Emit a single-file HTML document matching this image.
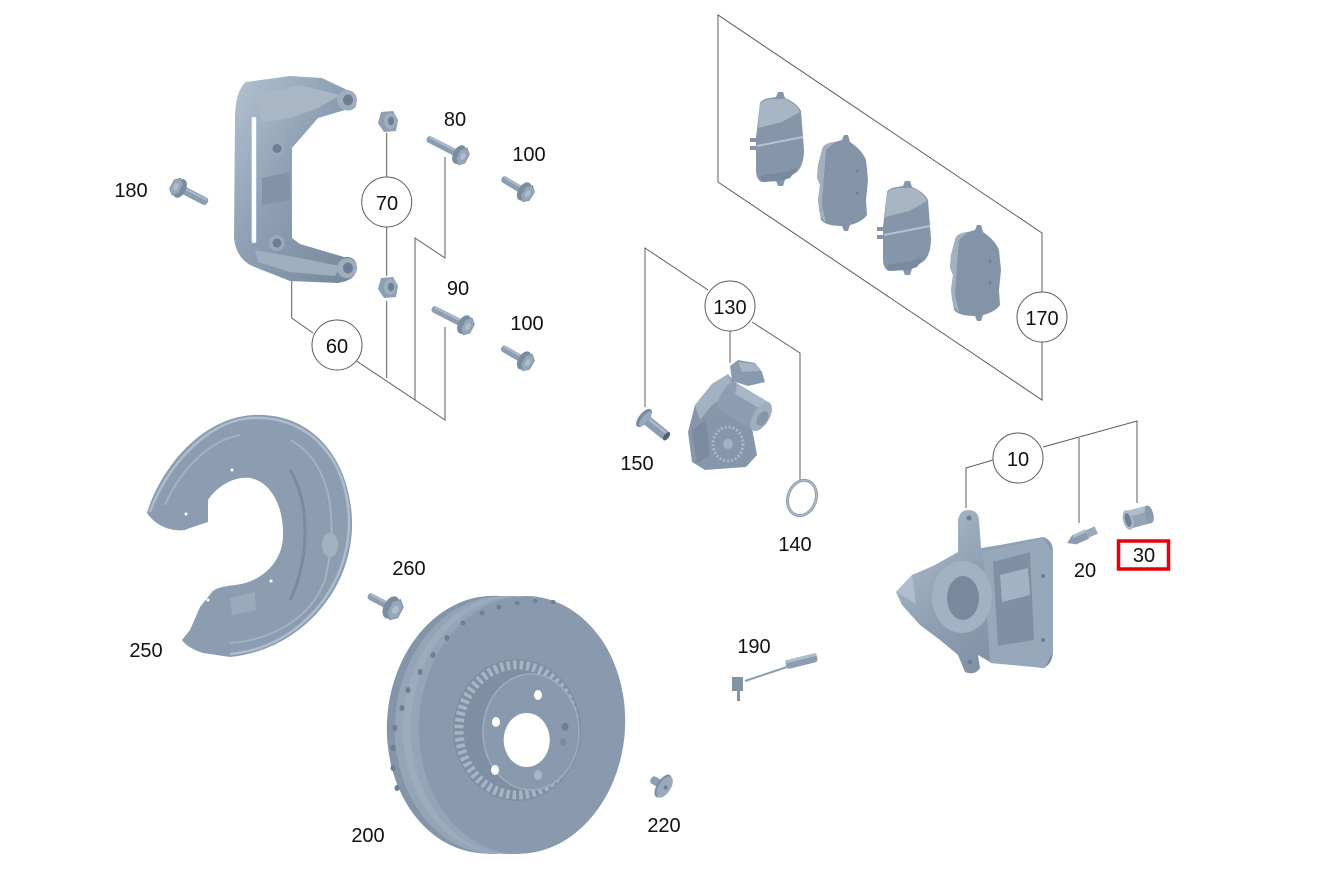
<!DOCTYPE html>
<html><head><meta charset="utf-8">
<style>
html,body{margin:0;padding:0;background:#fff;width:1326px;height:881px;overflow:hidden;}
svg{display:block;}
text{font-family:"Liberation Sans",Arial,sans-serif;font-size:20px;fill:#111;text-anchor:middle;}
</style></head><body>
<svg width="1326" height="881" viewBox="0 0 1326 881" xmlns="http://www.w3.org/2000/svg">
<defs>
<linearGradient id="g" x1="0" y1="0" x2="1" y2="1">
<stop offset="0" stop-color="#b3c1d0"/><stop offset="0.45" stop-color="#8fa0b4"/><stop offset="1" stop-color="#76879b"/></linearGradient>
<linearGradient id="gv" x1="0" y1="0" x2="0" y2="1">
<stop offset="0" stop-color="#a9b8c8"/><stop offset="1" stop-color="#7c8da1"/></linearGradient>
<g id="bh">
<ellipse cx="-1" cy="0" rx="6" ry="10" fill="#7b8ca0"/>
<polygon points="3,-9.5 8,-5 8,5 3,9.5 -2,5 -2,-5" fill="#97a7ba" stroke="#7a8b9f" stroke-width="0.7"/>
<polygon points="3,-4 5.5,-2 5.5,2 3,4 1,2 1,-2" fill="#b0bdcc"/>
</g>
<g id="pad1">
<path d="M760,103 Q762,99 770,98 L776,97 L778,92 L783,92 L785,98 Q797,103 801,111 L804,150 Q804,165 797,172 L785,180 L783,186 L778,186 L776,181 L762,182 Q756,180 756,170 L756,150 L750,150 L750,146 L756,146 L756,142 L750,142 L750,138 L756,138 Z" fill="#8696aa"/>
<path d="M760,104 Q763,100 771,99 L785,99 Q797,104 800,112 L782,122 L758,128 Z" fill="#a7b5c5"/>
<path d="M757,146 L803,137" stroke="#b5c2d0" stroke-width="2"/>
<path d="M760,176 L785,172 L797,168 L790,178 L780,181 L762,182 Z" fill="#7a8a9e"/>
</g>
<g id="pad2">
<path d="M822,150 Q823,143 835,142 L842,140 L844,135 L848,135 L850,142 Q862,150 866,160 L868,180 L866,200 L867,215 Q862,222 850,225 L848,231 L844,231 L842,226 Q826,226 821,220 L818,200 L820,185 L817,178 L818,165 Z" fill="#8494a8"/>
<path d="M822,150 Q823,143 835,142 L826,150 L824,175 L822,205 L826,222 Q821,220 819,210 L818,200 L820,185 L817,178 L818,165 Z" fill="#a2b1c1"/>
<circle cx="857" cy="171" r="1.5" fill="#6f7f93"/><circle cx="857" cy="193" r="1.5" fill="#6f7f93"/>
</g>
</defs>

<!-- ===== connector lines ===== -->
<g stroke="#5c5c5c" stroke-width="1" fill="none">
<path d="M291.7,280 L291.7,318 L313,333"/>
<path d="M356.5,361 L445,420 L445,327"/>
<path d="M386.7,378 L386.7,301"/>
<path d="M386.7,276 L386.7,227"/>
<path d="M386.7,177 L386.7,133"/>
<path d="M415,400 L415,238 L445,258 L445,157"/>
<path d="M1042,292 L1042,233 L718,15 L718,182 L1042,400 L1042,342"/>
<path d="M645,407 L645,248 L708,290"/>
<path d="M730,331 L730,363"/>
<path d="M752,322 L800,353 L800,480"/>
<path d="M993,460 L966,468 L966,508"/>
<path d="M1043,447 L1137,421 L1137,503"/>
<path d="M1079,438 L1079,523"/>
</g>

<!-- ===== caliper bracket 60 ===== -->
<g>
<path d="M246,82 L290,76 L322,78 L345,89 Q358,95 356,106 Q352,112 345,110 L318,118 L292,148 L292,238 L300,244 L344,257 Q356,256 357,267 Q357,280 338,283 L290,281 L252,266 Q236,258 234,238 L235,115 Q236,90 246,82 Z" fill="url(#g)"/>
<path d="M255,95 L300,85 L340,95 L318,108 L290,118 L262,122 Z" fill="#a8b6c6"/>
<path d="M255,250 L300,258 L340,266 L335,276 L290,272 L258,262 Z" fill="#9fafc0"/>
<rect x="251.7" y="117" width="4.5" height="126" rx="2" fill="#fff"/>
<circle cx="347" cy="100" r="10" fill="#9eadbf"/><ellipse cx="348" cy="100" rx="5" ry="5.5" fill="#6f7f93"/>
<circle cx="347" cy="268" r="10" fill="#9eadbf"/><ellipse cx="348" cy="268" rx="5" ry="5.5" fill="#6f7f93"/>
<circle cx="276.7" cy="148.3" r="8" fill="#9aa9bb"/><circle cx="277" cy="148.5" r="4.5" fill="#6f7f93"/>
<circle cx="276.7" cy="243" r="8" fill="#9aa9bb"/><circle cx="277" cy="243" r="4.5" fill="#6f7f93"/>
<path d="M262,178 L290,172 L290,200 L262,205 Z" fill="#8293a7"/>
</g>

<!-- nuts 70 -->
<g>
<polygon points="381,112 393,111 398,120 396,131 384,132 378,123" fill="#8e9fb3"/>
<ellipse cx="390" cy="121" rx="6" ry="8" fill="#9fafc0"/><ellipse cx="391" cy="121" rx="3" ry="4.5" fill="#6f7f93"/>
<polygon points="381,278 393,277 398,286 396,297 384,298 378,289" fill="#8e9fb3"/>
<ellipse cx="390" cy="287" rx="6" ry="8" fill="#9fafc0"/><ellipse cx="391" cy="287" rx="3" ry="4.5" fill="#6f7f93"/>
</g>

<!-- bolts -->
<g transform="translate(460,155) rotate(27)"><rect x="-37" y="-3.5" width="37" height="7" rx="3" fill="#8d9db1"/><rect x="-35" y="-3" width="33" height="2" fill="#abb9c8"/><use href="#bh"/></g>
<g transform="translate(465,325) rotate(27)"><rect x="-37" y="-3.5" width="37" height="7" rx="3" fill="#8d9db1"/><rect x="-35" y="-3" width="33" height="2" fill="#abb9c8"/><use href="#bh"/></g>
<g transform="translate(525,192) rotate(31)"><rect x="-27" y="-3.5" width="27" height="7" rx="3" fill="#8d9db1"/><rect x="-25" y="-3" width="23" height="2" fill="#abb9c8"/><use href="#bh"/></g>
<g transform="translate(525,361) rotate(30)"><rect x="-27" y="-3.5" width="27" height="7" rx="3" fill="#8d9db1"/><rect x="-25" y="-3" width="23" height="2" fill="#abb9c8"/><use href="#bh"/></g>
<g transform="translate(179,188) rotate(207)"><rect x="-32" y="-4" width="32" height="8" rx="3" fill="#8d9db1"/><rect x="-30" y="1" width="28" height="2" fill="#abb9c8"/><use href="#bh"/></g>
<g transform="translate(392,608) rotate(28)"><rect x="-27" y="-3.5" width="27" height="7" rx="3" fill="#8d9db1"/><rect x="-25" y="-3" width="23" height="2" fill="#abb9c8"/><use href="#bh" transform="scale(1.2)"/></g>
<g transform="translate(644,418) rotate(219)"><rect x="-29" y="-5" width="29" height="10" rx="3" fill="#8d9db1"/><rect x="-27" y="1" width="25" height="2.5" fill="#abb9c8"/><ellipse cx="-29" cy="0" rx="2.5" ry="5" fill="#55606e"/><ellipse cx="0" cy="0" rx="5" ry="11" fill="#7b8ca0"/><ellipse cx="-1.5" cy="0" rx="3" ry="9" fill="#9aaabc"/></g>
<g transform="translate(663,786) rotate(32)"><rect x="-14" y="-4" width="14" height="8" rx="3" fill="#8d9db1"/><ellipse cx="0" cy="0" rx="6" ry="13" fill="#7d8ea2"/><ellipse cx="2" cy="0" rx="6" ry="12" fill="#9aaabc"/><circle cx="3" cy="0" r="2" fill="#6f7f93"/></g>

<!-- pads 170 -->
<use href="#pad1"/>
<use href="#pad2"/>
<use href="#pad1" transform="translate(127,89)"/>
<use href="#pad2" transform="translate(133,90)"/>

<!-- motor 130 -->
<g>
<path d="M712,384 L728,374 L742,392 L752,428 L757,455 L746,467 L705,470 L692,462 L688,432 L695,405 Z" fill="#8797ab"/>
<path d="M712,384 L728,374 L735,390 L712,405 L700,420 L695,405 Z" fill="#a3b2c2"/>
<g transform="translate(727,396) rotate(31)">
<rect x="0" y="-16" width="40" height="32" fill="#8e9eb2"/>
<rect x="0" y="-16" width="40" height="10" fill="#a8b6c6"/>
<ellipse cx="0" cy="0" rx="6" ry="16" fill="#8e9eb2"/>
<ellipse cx="40" cy="0" rx="8" ry="16" fill="#a0afc0"/>
<ellipse cx="42" cy="1" rx="5" ry="8" fill="#8797ab"/>
</g>
<polygon points="730,366 738,360 755,363 762,372 765,382 748,386 732,381" fill="#8a9aae"/>
<polygon points="738,362 755,364 760,371 742,372" fill="#a6b4c4"/>
<ellipse cx="728" cy="444" rx="15" ry="17" fill="#8797ab" stroke="#a9b7c7" stroke-width="3" stroke-dasharray="2 2"/>
<circle cx="728" cy="444" r="5" fill="#a3b2c2"/>
<path d="M692,430 L706,420 L710,455 L697,463 Z" fill="#7a8b9f"/>
</g>
<!-- o-ring 140 -->
<ellipse cx="802" cy="498" rx="14" ry="18" transform="rotate(20 802 498)" fill="none" stroke="#8d9db1" stroke-width="3"/>
<ellipse cx="802" cy="498" rx="14" ry="18" transform="rotate(20 802 498)" fill="none" stroke="#b3c0ce" stroke-width="1"/>

<!-- caliper 10 -->
<g>
<path d="M968,510 Q978,510 979,520 L981,548 L1000,545 L1043,537 Q1053,540 1053,552 L1053,652 Q1052,665 1043,668 L990,662 L978,655 L980,668 Q975,676 965,672 L958,655 L940,640 L920,625 L902,605 L896,592 L912,575 L935,565 L958,552 L958,520 Q960,510 968,510 Z" fill="url(#g)"/>
<path d="M983,552 L1043,538 L1053,552 L1053,652 L1045,668 L990,663 Z" fill="#98a8bb"/>
<path d="M993,562 L1030,552 L1034,640 L998,646 Z" fill="#7f90a4"/>
<path d="M1000,575 L1028,568 L1030,595 L1002,602 Z" fill="#a4b3c3"/>
<ellipse cx="962" cy="597" rx="30" ry="36" fill="#a3b2c2"/>
<ellipse cx="963" cy="598" rx="16" ry="22" fill="#7a8a9e"/>
<circle cx="969" cy="518" r="2.5" fill="#6f7f93"/><circle cx="970" cy="662" r="2.5" fill="#6f7f93"/>
<circle cx="1043" cy="576" r="2" fill="#6f7f93"/><circle cx="1043" cy="640" r="2" fill="#6f7f93"/>
<path d="M897,592 L912,575 L916,604 Z" fill="#b0bdcc"/>
</g>
<!-- bleeder 20 -->
<g transform="translate(1067,543) rotate(-24)">
<path d="M0,0 L8,-5 L22,-5 L22,5 L8,5 Z" fill="#8d9db1"/>
<rect x="8" y="-5" width="14" height="3" fill="#b0bdcc"/>
<rect x="22" y="-4" width="10" height="8" fill="#9aaabc"/>
</g>
<!-- cap 30 -->
<g transform="translate(1128,520) rotate(-15)">
<rect x="0" y="-9" width="22" height="18" fill="#94a4b7"/>
<rect x="0" y="-9" width="22" height="6" fill="#b0bdcc"/>
<ellipse cx="22" cy="0" rx="4" ry="9" fill="#8a9aae"/>
<ellipse cx="0" cy="0" rx="5" ry="10" fill="#a9b7c7"/>
<ellipse cx="0" cy="0" rx="3" ry="7" fill="#6f7f93"/>
</g>

<!-- shield 250 -->
<g>
<path d="M147,513 C160,470 200,418 253,415 C315,412 350,462 352,520 C354,590 300,650 230,657 L203,653 C193,650 185,645 182,640 L190,630 L200,607 L212,592 C215,588 225,586 235,585 C262,582 282,562 283,537 C284,508 272,482 250,478 C232,476 216,488 208,500 L208,522 L190,528 L185,530 C170,532 155,525 147,513 Z" fill="#8d9db1"/>
<path d="M150,512 C165,470 205,420 253,418 C312,416 348,462 349,520 C350,588 298,648 230,654" fill="none" stroke="#aebccb" stroke-width="2.5"/>
<path d="M165,505 C180,470 210,440 240,435 M290,440 C330,460 340,520 325,580 C310,620 270,640 230,643" fill="none" stroke="#a3b2c2" stroke-width="2"/>
<path d="M290,470 C310,500 310,560 290,600" fill="none" stroke="#7a8b9f" stroke-width="3"/>
<ellipse cx="330" cy="545" rx="8" ry="12" fill="#a3b2c2"/>
<path d="M230,598 L255,592 L256,610 L232,615 Z" fill="#9aaabc"/>
<circle cx="232" cy="470" r="1.5" fill="#fff"/><circle cx="186" cy="514" r="1.5" fill="#fff"/><circle cx="208" cy="600" r="1.5" fill="#fff"/><circle cx="271" cy="581" r="1.5" fill="#fff"/>
</g>

<!-- disc 200 -->
<g transform="rotate(4 510 725)">
<ellipse cx="490" cy="726" rx="103" ry="129" fill="#8595a9"/>
<ellipse cx="498" cy="726" rx="103" ry="129" fill="#95a5b8"/>
<ellipse cx="506" cy="725" rx="103" ry="129" fill="#9cabbd"/>
<ellipse cx="514" cy="725" rx="103" ry="129" fill="#95a5b8"/>
<ellipse cx="522" cy="724" rx="103" ry="129" fill="#8a9aae"/>
</g>
<g fill="#6f7f93">
<ellipse cx="553" cy="602" rx="2.5" ry="2"/><ellipse cx="535" cy="601" rx="2.5" ry="2"/><ellipse cx="517" cy="603" rx="2.5" ry="2"/>
<ellipse cx="499" cy="607" rx="2.5" ry="2.5"/><ellipse cx="482" cy="613" rx="2.5" ry="2.5"/><ellipse cx="463" cy="623" rx="2.5" ry="2.5"/>
<ellipse cx="447" cy="638" rx="2.5" ry="3"/><ellipse cx="433" cy="655" rx="2.5" ry="3"/><ellipse cx="420" cy="672" rx="2.5" ry="3"/>
<ellipse cx="408" cy="690" rx="2.5" ry="3"/><ellipse cx="402" cy="708" rx="2.5" ry="3"/><ellipse cx="395" cy="728" rx="2.5" ry="3"/>
<ellipse cx="393" cy="748" rx="2.5" ry="3"/><ellipse cx="393" cy="768" rx="2.5" ry="3"/><ellipse cx="397" cy="788" rx="2.5" ry="3"/>
</g>
<ellipse cx="517" cy="730" rx="64" ry="71" fill="#7f8fa3"/>
<ellipse cx="517" cy="730" rx="58" ry="65" fill="none" stroke="#a6b4c4" stroke-width="9" stroke-dasharray="3.5 3"/>
<ellipse cx="531" cy="732" rx="48" ry="58" fill="#8a9aae" stroke="#9eadbf" stroke-width="1.5"/>
<ellipse cx="526.7" cy="740" rx="23" ry="27" fill="#fff"/>
<ellipse cx="538" cy="695" rx="4" ry="5" fill="#fff"/>
<ellipse cx="496" cy="722" rx="4" ry="5" fill="#fff"/>
<ellipse cx="495" cy="770" rx="4" ry="5" fill="#fff"/>
<ellipse cx="538" cy="775" rx="4" ry="5" fill="#a9b7c7"/>
<ellipse cx="565" cy="727" rx="3.5" ry="4" fill="#6f7f93"/>
<ellipse cx="563" cy="742" rx="3" ry="3.5" fill="#7a8a9e"/>

<!-- sensor 190 -->
<g>
<line x1="745" y1="681" x2="787" y2="667" stroke="#8d9db1" stroke-width="2"/>
<g transform="translate(786,665) rotate(-14)"><rect x="0" y="-4.5" width="32" height="9" rx="3" fill="#8d9db1"/><rect x="0" y="-4.5" width="32" height="3" fill="#b0bdcc"/></g>
<rect x="732" y="677" width="11" height="14" fill="#8494a8"/>
<rect x="737" y="690" width="3" height="11" fill="#8494a8"/>
</g>

<!-- callout circles -->
<g fill="#fff" stroke="#5c5c5c" stroke-width="1">
<circle cx="386.7" cy="202" r="25"/>
<circle cx="337" cy="345" r="25"/>
<circle cx="730" cy="306" r="25"/>
<circle cx="1042" cy="317" r="25"/>
<circle cx="1018" cy="458" r="25"/>
</g>
<rect x="1118.5" y="541" width="50" height="28" fill="none" stroke="#e8000b" stroke-width="3.5"/>

<!-- labels -->
<text x="387" y="210">70</text>
<text x="337" y="353">60</text>
<text x="730" y="314">130</text>
<text x="1042" y="325">170</text>
<text x="1018" y="466">10</text>
<text x="131" y="197">180</text>
<text x="455" y="126">80</text>
<text x="529" y="161">100</text>
<text x="458" y="295">90</text>
<text x="527" y="330">100</text>
<text x="637" y="470">150</text>
<text x="795" y="551">140</text>
<text x="1085" y="577">20</text>
<text x="1144" y="562">30</text>
<text x="409" y="575">260</text>
<text x="146" y="657">250</text>
<text x="754" y="653">190</text>
<text x="368" y="842">200</text>
<text x="664" y="832">220</text>
</svg>
</body></html>
